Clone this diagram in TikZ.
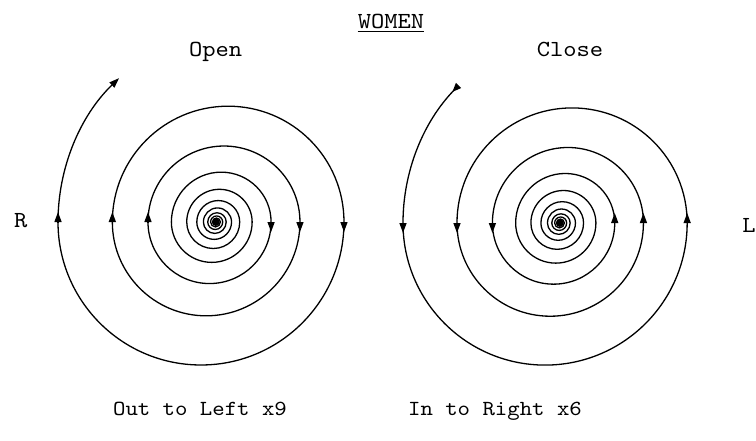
\documentclass[tikz,border=0pt]{standalone}
\usepackage{fontspec}
\setmonofont{lmmono10-regular.otf}[FakeStretch=1.1]
\usetikzlibrary{arrows.meta}
\tikzset{
  curve/.style={line width=1.3pt},
  tipped/.style={line width=1.3pt,-{Triangle[length=10pt,width=7pt]}},
  lbl/.style={inner sep=0pt,anchor=base,font=\ttfamily\fontsize{23}{27}\selectfont},
  lblsmall/.style={inner sep=0pt,anchor=base,font=\ttfamily\fontsize{21.5}{26}\selectfont}
}
\begin{document}
\begin{tikzpicture}[x=1pt,y=1pt]
\useasboundingbox (0,0) rectangle (756,-440);
\def\q{0.81}
% spirals: centre X, centre Y (page, downwards), outer crossing radius, arrow sign
\foreach \X/\Y/\rz/\sg/\nm in {216/222/158/1/A, 560/223/157/-1/B}{
  % semicircles
  \foreach \k in {0,...,20}{
    \pgfmathsetmacro\ra{\rz*(\q)^(\k)}
    \pgfmathsetmacro\rb{\rz*(\q)^(\k+1)}
    \pgfmathsetmacro\R{(\ra+\rb)/2}
    \pgfmathsetmacro\xs{iseven(\k) ? \X-\ra : \X+\ra}
    \pgfmathsetmacro\sa{iseven(\k) ? 180 : 0}
    \draw[curve] (\xs,-\Y) arc[start angle=\sa, end angle=\sa+180, radius=\R pt];
  }
  % crossing arrows
  \foreach \k in {0,...,5}{
    \pgfmathsetmacro\ra{\rz*(\q)^(\k)}
    \pgfmathsetmacro\xs{iseven(\k) ? \X-\ra : \X+\ra}
    \pgfmathsetmacro\d{(iseven(\k) ? 10 : -10)*\sg}
    \draw[tipped] (\xs,-\Y) -- ++(0,\d);
  }
  \fill (\X,-\Y) circle[radius=3.6pt];
}
% outer arcs
\coordinate (a0) at (58,-222);
\coordinate (b0) at (403,-223);
\draw[curve,-{Triangle[length=10pt,width=7pt]}] (a0) arc[start angle=180, end angle=134, radius=200pt];
\draw[curve,-{Triangle[length=9pt,width=7pt,reversed]}] (b0) arc[start angle=180, end angle=136, radius=198pt];
% labels
\node[lbl] (women) at (391,-28.3) {WOMEN};
\draw[line width=0.8pt] ([yshift=-3.2pt]women.base west) -- ([yshift=-3.2pt]women.base east);
\node[lbl] (open) at (215.7,-56) {Open};
\node[lbl] (close) at (570,-56) {Close};
\node[lbl] (rr) at (20.8,-227) {R};
\node[lbl] (ll) at (749,-232) {L};
\node[lblsmall] (out) at (200,-415) {Out to Left x9};
\node[lblsmall] (in) at (495,-415) {In to Right x6};
\end{tikzpicture}
\end{document}
